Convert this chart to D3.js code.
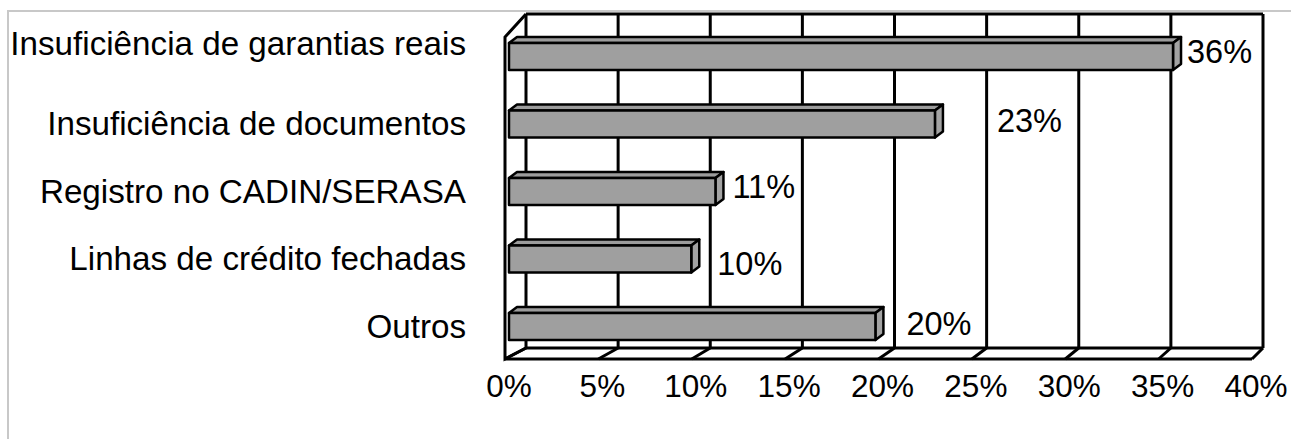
<!DOCTYPE html>
<html>
<head>
<meta charset="utf-8">
<script src="https://cdn.jsdelivr.net/npm/d3@7/dist/d3.min.js"></script>
<style>
  body { margin: 0; background: #fff; }
  svg text { font-family: "Liberation Sans", Arial, sans-serif; fill: #000; }
</style>
</head>
<body>
<svg id="graph"></svg>
<script>
const categories = [
  'Insuficiência de garantias reais',
  'Insuficiência de documentos',
  'Registro no CADIN/SERASA',
  'Linhas de crédito fechadas',
  'Outros',
];
const values = [35.7, 22.9, 11.1, 9.8, 19.7];
const valueLabels = ['36%', '23%', '11%', '10%', '20%'];
const ticks = [0, 5, 10, 15, 20, 25, 30, 35, 40];

// layout nudges for labels
const valueNudge = [[6, 6], [54, 8], [9, 6], [18, 16], [23, 8]];
const catNudge = [-13, 0, 0, 0, 0];

function draw() {
  const width = 1291;
  const height = 439;
  const depth = { dx: 8, dy: -6 };

  const svg = d3.select('#graph')
      .attr('width', width)
      .attr('height', height);

  // front and back planes of the 3d box
  const xFront = d3.scaleLinear().domain([0, 40]).range([505, 1252]);
  const xBack = d3.scaleLinear().domain([0, 40]).range([526, 1263]);
  const xBar = d3.scaleLinear().domain([0, 40]).range([509, 509 + 40 * 18.6]);
  const backTop = 14;
  const backBottom = 348;
  const frontTop = 37;
  const frontBottom = 359;

  const y = d3.scaleBand()
      .domain(categories)
      .range([22.75, 360.25])
      .paddingInner(0.6)
      .paddingOuter(0.3);

  // chart area border
  svg.append('path')
      .attr('d', `M8,${height}V11H${width}`)
      .attr('fill', 'none')
      .attr('stroke', '#c8c8c8')
      .attr('stroke-width', 2);

  const frame = svg.append('g')
      .attr('fill', 'none')
      .attr('stroke', '#000')
      .attr('stroke-width', 3)
      .attr('stroke-linejoin', 'miter');

  // back wall gridlines
  frame.selectAll('.grid')
      .data(ticks)
    .enter().append('line')
      .attr('x1', d => xBack(d))
      .attr('x2', d => xBack(d))
      .attr('y1', backTop)
      .attr('y2', backBottom);

  frame.append('line')
      .attr('x1', xBack(0)).attr('x2', xBack(40))
      .attr('y1', backTop).attr('y2', backTop);

  // left wall
  frame.append('path')
      .attr('d', `M${xBack(0)},${backTop}L${xFront(0)},${frontTop}V${frontBottom}L${xBack(0)},${backBottom}`);

  // floor
  frame.append('line')
      .attr('x1', xBack(0)).attr('x2', xBack(40))
      .attr('y1', backBottom).attr('y2', backBottom);
  frame.append('line')
      .attr('x1', xFront(0)).attr('x2', xFront(40))
      .attr('y1', frontBottom).attr('y2', frontBottom);
  frame.selectAll('.floor')
      .data(ticks)
    .enter().append('line')
      .attr('x1', d => xBack(d))
      .attr('x2', d => xFront(d))
      .attr('y1', backBottom)
      .attr('y2', frontBottom);

  // bars as boxes
  const bars = svg.selectAll('.bar')
      .data(categories.map((c, i) => ({ c, v: values[i], i })))
    .enter().append('g')
      .attr('class', 'bar')
      .attr('stroke', '#000')
      .attr('stroke-width', 2.5)
      .attr('stroke-linejoin', 'round');

  bars.append('path')
      .attr('fill', '#9c9c9c')
      .attr('d', d => {
        const x0 = xBar(0), x1 = xBar(d.v), y0 = y(d.c);
        return `M${x0},${y0}L${x0 + depth.dx},${y0 + depth.dy}H${x1 + depth.dx}L${x1},${y0}Z`;
      });
  bars.append('path')
      .attr('fill', '#a3a3a3')
      .attr('d', d => {
        const x1 = xBar(d.v), y0 = y(d.c), y1 = y0 + y.bandwidth();
        return `M${x1},${y0}L${x1 + depth.dx},${y0 + depth.dy}V${y1 + depth.dy}L${x1},${y1}Z`;
      });
  bars.append('rect')
      .attr('fill', '#9f9f9f')
      .attr('x', xBar(0))
      .attr('y', d => y(d.c))
      .attr('width', d => xBar(d.v) - xBar(0))
      .attr('height', y.bandwidth());

  // value labels
  svg.selectAll('.value')
      .data(categories.map((c, i) => ({ c, v: values[i], i })))
    .enter().append('text')
      .attr('class', 'value')
      .attr('x', d => xBar(d.v) + depth.dx + valueNudge[d.i][0])
      .attr('y', d => y(d.c) + y.bandwidth() / 2 + valueNudge[d.i][1])
      .style('font-size', '32.5px')
      .text(d => valueLabels[d.i]);

  // category labels
  svg.selectAll('.cat')
      .data(categories)
    .enter().append('text')
      .attr('class', 'cat')
      .attr('x', 466)
      .attr('y', (d, i) => y(d) + y.bandwidth() / 2 + 11 + catNudge[i])
      .attr('text-anchor', 'end')
      .style('font-size', '33.2px')
      .text(d => d);

  // tick labels
  svg.selectAll('.tick')
      .data(ticks)
    .enter().append('text')
      .attr('class', 'tick')
      .attr('x', d => xFront(d) + 4)
      .attr('y', 397)
      .attr('text-anchor', 'middle')
      .style('font-size', '31.5px')
      .text(d => `${d}%`);
}

draw();
</script>
</body>
</html>
